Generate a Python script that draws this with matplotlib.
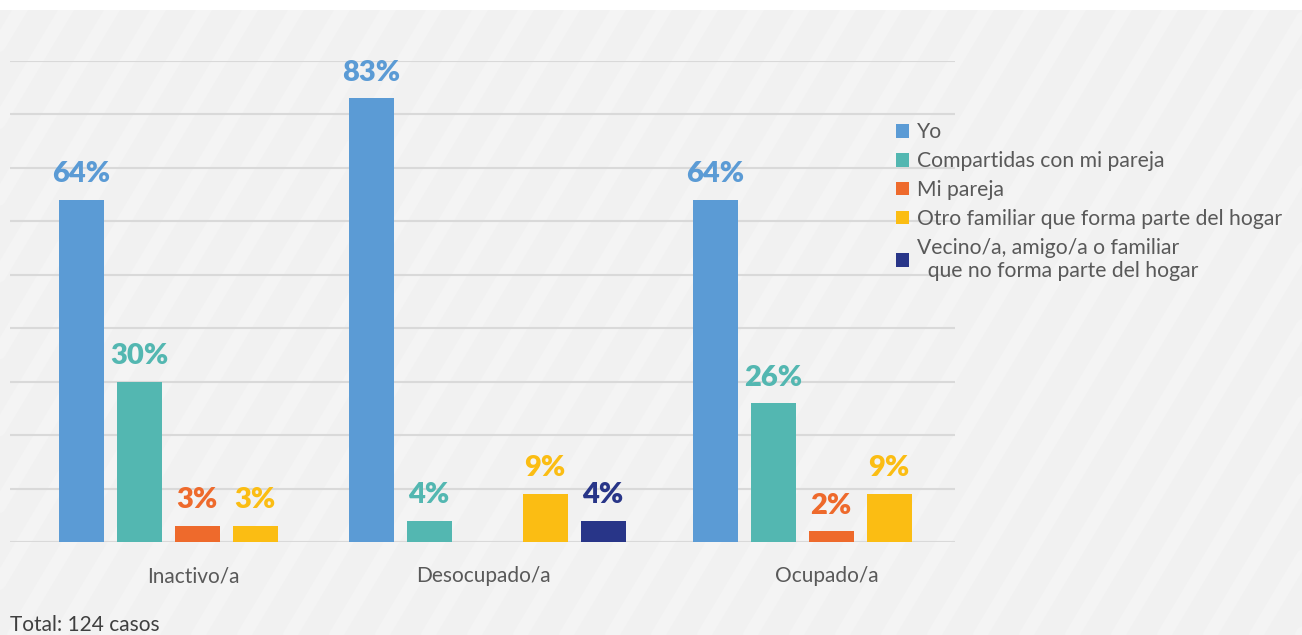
import numpy as np
import matplotlib.pyplot as plt
from matplotlib.patches import Rectangle
from matplotlib.lines import Line2D

plt.rcParams['font.family'] = ['Lato', 'DejaVu Sans']

categorias = ['Inactivo/a', 'Desocupado/a', 'Ocupado/a']
series = ['Yo', 'Compartidas con mi pareja', 'Mi pareja',
          'Otro familiar que forma parte del hogar',
          'Vecino/a, amigo/a o familiar\n  que no forma parte del hogar']
# None = sin barra en esa categoría
yo = [64, 83, 64]
compartidas = [30, 4, 26]
mi_pareja = [3, None, 2]
otro_familiar = [3, 9, 9]
vecino = [None, 4, None]
valores = [yo, compartidas, mi_pareja, otro_familiar, vecino]
colores = ['#5B9BD5', '#53B7B1', '#EE6A2C', '#FBBD13', '#283588']
nota = 'Total: 124 casos'

# posiciones de los grupos y de las barras (en px del lienzo)
centros = np.array([197, 487, 831])
paso, ancho = 58, 45

W, H = 1302, 635
fig = plt.figure(figsize=[W/100, H/100], dpi=100)
fig.patch.set_facecolor('#f1f1f1')

# trazos diagonales suaves del fondo
for x0 in np.arange(-400, W + 50, 46):
    fig.add_artist(Line2D([x0/W, (x0 + 380)/W], [0, 1], transform=fig.transFigure,
                          color='#f4f4f4', linewidth=10, solid_capstyle='round',
                          zorder=0))
# franja blanca arriba
fig.add_artist(Rectangle((0, 1 - 10/H), 1, 10/H, transform=fig.transFigure,
                         facecolor='white', edgecolor='none', zorder=0.5))

ax = fig.add_axes([10/W, 93/H, 945/W, 481/H])
ax.set_facecolor('none')
ax.set_xlim(10, 955)
ax.set_ylim(0, 90)

for i, (vals, col) in enumerate(zip(valores, colores)):
    xs = centros + (i - 2) * paso
    for x, v in zip(xs, vals):
        if v is None:
            continue
        ax.bar(x, v, width=ancho, color=col, zorder=3)
        ax.annotate(f'{v}%', (x, v), xytext=(0, 9), textcoords='offset points',
                    ha='center', va='bottom', fontsize=21, fontweight='heavy',
                    color=col, zorder=4)

ax.set_yticks(np.arange(0, 91, 10))
ax.yaxis.grid(True, color='#d9d9d9', linewidth=1.5, zorder=0)
ax.tick_params(axis='y', left=False, labelleft=False)
ax.tick_params(axis='x', bottom=False, labelsize=15, labelcolor='#595959', pad=14)
ax.set_xticks(centros - 4)
ax.set_xticklabels(categorias)
for s in ax.spines.values():
    s.set_visible(False)

handles = [Rectangle((0, 0), 1, 1, facecolor=c) for c in colores]
fig.legend(handles, series, loc='upper left', bbox_to_anchor=(888/W, 1 - 114/H),
           frameon=False, fontsize=15.2, labelcolor='#595959', handlelength=0.6,
           handleheight=0.6, handletextpad=0.35, labelspacing=0.42, borderaxespad=0)

fig.text(10/W, 1 - 631/H, nota, fontsize=15, color='#404040', va='baseline')

fig.savefig('out.png', dpi=100, facecolor=fig.get_facecolor())
